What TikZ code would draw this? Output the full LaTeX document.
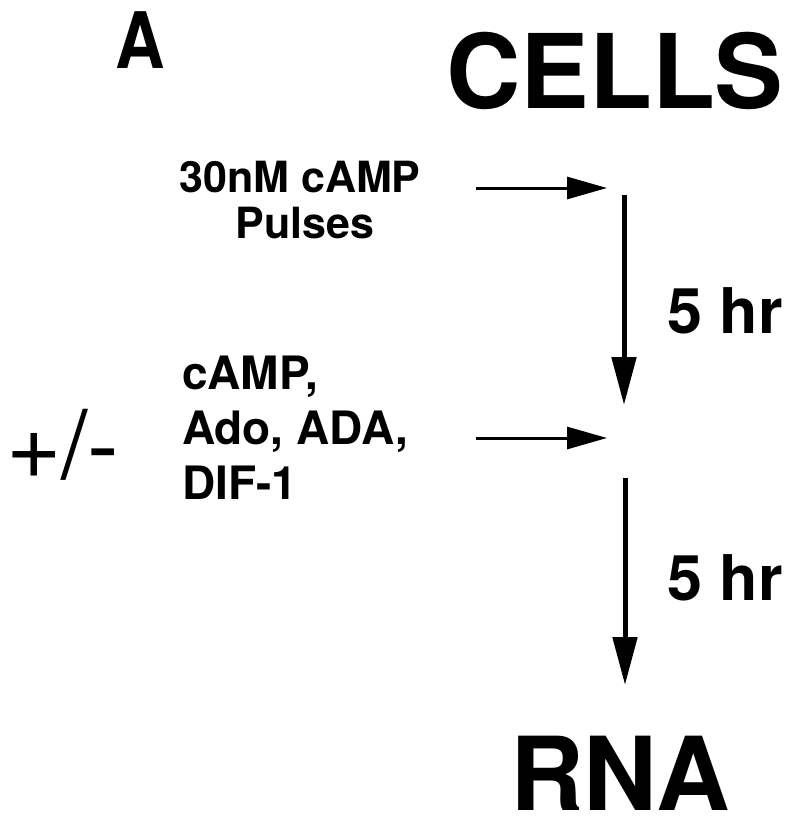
\documentclass[tikz,border=0pt]{standalone}
\usepackage{fontspec}
\setmainfont{TeX Gyre Heros}
\usetikzlibrary{arrows.meta}
\tikzset{
  harrow/.style={line width=3pt,-{Triangle[length=40pt,width=22pt]}},
  varrow/.style={line width=5pt,-{Triangle[length=48pt,width=24pt]}},
  lbl/.style={inner sep=0pt,outer sep=0pt,font=\bfseries,text depth=0pt}
}
\begin{document}
\begin{tikzpicture}[x=1pt,y=-1pt]
\useasboundingbox (0,0) rectangle (800,828);
\node[lbl,font=\bfseries\fontsize{78}{78}\selectfont,anchor=base west,xscale=0.88] (A) at (115,68) {A};
\node[lbl,font=\bfseries\fontsize{103}{103}\selectfont,anchor=base west] (cells) at (446,108) {CELLS};
\node[lbl,font=\bfseries\fontsize{43}{43}\selectfont,anchor=base] (t1) at (300,192) {30nM cAMP};
\node[lbl,font=\bfseries\fontsize{43}{43}\selectfont,anchor=base] (t2) at (305,238) {Pulses};
\node[lbl,font=\bfseries\fontsize{63}{63}\selectfont,anchor=base west] (h1) at (667,333) {5 hr};
\node[lbl,font=\bfseries\fontsize{63}{63}\selectfont,anchor=base west] (h2) at (667,600) {5 hr};
\node[lbl,font=\fontsize{95}{95}\selectfont,anchor=base west] (pm) at (6,478) {+/-};
\node[lbl,font=\bfseries\fontsize{46}{46}\selectfont,anchor=base west] (d1) at (182,389) {cAMP,};
\node[lbl,font=\bfseries\fontsize{46}{46}\selectfont,anchor=base west] (d2) at (182,444) {Ado, ADA,};
\node[lbl,font=\bfseries\fontsize{46}{46}\selectfont,anchor=base west] (d3) at (182,499) {DIF-1};
\node[lbl,font=\bfseries\fontsize{102}{102}\selectfont,anchor=base west] (rna) at (510,810) {RNA};
\coordinate (a1s) at (476,188);
\coordinate (a1e) at (607,188);
\coordinate (v1s) at (624,195);
\coordinate (v1e) at (624,405);
\coordinate (a2s) at (476,438);
\coordinate (a2e) at (607,438);
\coordinate (v2s) at (625,478);
\coordinate (v2e) at (625,685);
\draw[harrow] (a1s) -- (a1e);
\draw[varrow] (v1s) -- (v1e);
\draw[harrow] (a2s) -- (a2e);
\draw[varrow] (v2s) -- (v2e);
\end{tikzpicture}
\end{document}
